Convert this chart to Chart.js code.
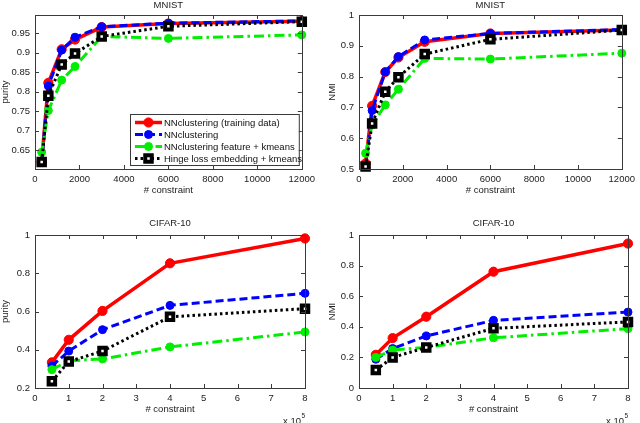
<!DOCTYPE html>
<html>
<head>
<meta charset="utf-8">
<script src="https://cdn.jsdelivr.net/npm/chart.js@4"></script>
<style>
html,body{margin:0;padding:0;background:#fff;}
body{width:640px;height:423px;position:relative;overflow:hidden;}
.c{position:absolute;}
</style>
</head>
<body>
<div class="c" style="left:0;top:0;width:320px;height:211px"><canvas id="c1"></canvas></div>
<div class="c" style="left:320px;top:0;width:320px;height:211px"><canvas id="c2"></canvas></div>
<div class="c" style="left:0;top:211px;width:320px;height:212px"><canvas id="c3"></canvas></div>
<div class="c" style="left:320px;top:211px;width:320px;height:212px"><canvas id="c4"></canvas></div>
<script>
// ---------------- DATA ----------------
const seriesNames = [
  'NNclustering (training data)',
  'NNclustering',
  'NNclustering feature + kmeans',
  'Hinge loss embedding + kmeans'
];
const mnistX = [300, 600, 1200, 1800, 3000, 6000, 12000];
const cifarX = [0.5, 1, 2, 4, 8];

const mnistPurityTrain  = [0.620, 0.823, 0.909, 0.934, 0.966, 0.975, 0.981];
const mnistPurityNN     = [0.619, 0.815, 0.907, 0.940, 0.967, 0.976, 0.982];
const mnistPurityFeat   = [0.645, 0.752, 0.830, 0.865, 0.942, 0.937, 0.946];
const mnistPurityHinge  = [0.620, 0.790, 0.870, 0.898, 0.942, 0.968, 0.980];

const mnistNmiTrain  = [0.518, 0.705, 0.815, 0.862, 0.913, 0.940, 0.951];
const mnistNmiNN     = [0.508, 0.690, 0.815, 0.865, 0.919, 0.940, 0.953];
const mnistNmiFeat   = [0.551, 0.643, 0.708, 0.759, 0.859, 0.857, 0.876];
const mnistNmiHinge  = [0.508, 0.648, 0.751, 0.798, 0.873, 0.921, 0.951];

const cifarPurityTrain = [0.334, 0.452, 0.603, 0.852, 0.982];
const cifarPurityNN    = [0.315, 0.393, 0.505, 0.632, 0.695];
const cifarPurityFeat  = [0.296, 0.342, 0.352, 0.415, 0.493];
const cifarPurityHinge = [0.235, 0.338, 0.393, 0.572, 0.615];

const cifarNmiTrain = [0.217, 0.326, 0.466, 0.760, 0.944];
const cifarNmiNN    = [0.188, 0.258, 0.340, 0.442, 0.496];
const cifarNmiFeat  = [0.200, 0.248, 0.265, 0.328, 0.388];
const cifarNmiHinge = [0.117, 0.200, 0.265, 0.390, 0.432];

const mnistXTicks = [0, 2000, 4000, 6000, 8000, 10000, 12000];
const cifarXTicks = [0, 1, 2, 3, 4, 5, 6, 7, 8];
const mnistPurityTicks = [0.65, 0.7, 0.75, 0.8, 0.85, 0.9, 0.95];
const mnistNmiTicks = [0.5, 0.6, 0.7, 0.8, 0.9, 1];
const cifarPurityTicks = [0.2, 0.4, 0.6, 0.8, 1];
const cifarNmiTicks = [0, 0.2, 0.4, 0.6, 0.8, 1];

// ---------------- STYLE ----------------
const FONT = 'Liberation Sans, Arial, Helvetica, sans-serif';
const FS = 9.5;
const styles = [
  {color:'#ff0000', width:3.5, dash:[], pointStyle:'circle', radius:4.6, bg:'#ff0000', bw:1, order:4},
  {color:'#0000ff', width:3, dash:[8,4], pointStyle:'circle', radius:4, bg:'#0000ff', bw:1, order:3},
  {color:'#00ee00', width:3, dash:[10,4,2.5,4], pointStyle:'circle', radius:4, bg:'#00ee00', bw:1, order:2},
  {color:'#000000', width:3, dash:[2.5,3], pointStyle:'rect', radius:4.6, bg:'#ffffff', bw:4, order:1}
];

function mkDatasets(xs, ys) {
  return ys.map((arr, i) => {
    const s = styles[i];
    return {
      label: seriesNames[i],
      data: arr.map((v, j) => ({x: xs[j], y: v})),
      borderColor: s.color,
      backgroundColor: s.bg,
      borderWidth: s.width,
      borderDash: s.dash,
      pointStyle: s.pointStyle,
      pointRadius: s.radius,
      pointBackgroundColor: s.bg,
      pointBorderColor: s.color,
      pointBorderWidth: s.bw,
      tension: 0,
      order: s.order,
      clip: false
    };
  });
}

const fmt = v => String(+(+v).toFixed(2));

// MATLAB-like box + inward ticks
const boxPlugin = {
  id: 'boxPlugin',
  afterDatasetsDraw(chart) {
    const {ctx, chartArea: a} = chart;
    const xs = chart.scales.x, ys = chart.scales.y;
    ctx.save();
    ctx.strokeStyle = '#3a3a3a';
    ctx.lineWidth = 1;
    ctx.setLineDash([]);
    ctx.beginPath();
    xs.ticks.forEach(t => {
      const px = Math.round(xs.getPixelForValue(t.value)) + 0.5;
      ctx.moveTo(px, a.bottom); ctx.lineTo(px, a.bottom - 4);
      ctx.moveTo(px, a.top); ctx.lineTo(px, a.top + 4);
    });
    ys.ticks.forEach(t => {
      const py = Math.round(ys.getPixelForValue(t.value)) + 0.5;
      ctx.moveTo(a.left, py); ctx.lineTo(a.left + 4, py);
      ctx.moveTo(a.right, py); ctx.lineTo(a.right - 4, py);
    });
    ctx.stroke();
    ctx.strokeRect(Math.round(a.left) + 0.5, Math.round(a.top) + 0.5,
                   Math.round(a.right - a.left), Math.round(a.bottom - a.top));
    const o = chart.options.plugins.boxPlugin || {};
    if (o.exponent) {
      ctx.fillStyle = '#222';
      ctx.font = FS + 'px ' + FONT;
      ctx.textBaseline = 'middle';
      ctx.textAlign = 'left';
      const ex = a.right - 22;
      const ey = chart.height - 2;
      ctx.fillText('x 10', ex, ey);
      const w = ctx.measureText('x 10').width;
      ctx.font = '6.5px ' + FONT;
      ctx.fillText('5', ex + w + 0.5, ey - 5);
    }
    if (o.legend) {
      const rows = chart.data.datasets;
      const right = a.right - 3, bottom = a.bottom - 4;
      const left = 130, top = bottom - 51;
      ctx.fillStyle = '#fff';
      ctx.fillRect(left, top, right - left, bottom - top);
      ctx.strokeStyle = '#3a3a3a';
      ctx.lineWidth = 1;
      ctx.strokeRect(left + 0.5, top + 0.5, right - left, bottom - top);
      rows.forEach((d, i) => {
        const y = top + 8.5 + i * 12;
        const s = styles[i];
        ctx.save();
        ctx.strokeStyle = s.color;
        ctx.lineWidth = s.width;
        ctx.setLineDash(s.dash);
        ctx.beginPath();
        ctx.moveTo(left + 5, y); ctx.lineTo(left + 32, y);
        ctx.stroke();
        ctx.setLineDash([]);
        const cx = left + 18.5;
        ctx.fillStyle = s.bg;
        ctx.strokeStyle = s.color;
        ctx.lineWidth = s.bw;
        if (s.pointStyle === 'rect') {
          const h = s.radius / Math.SQRT2;
          ctx.fillRect(cx - h, y - h, 2 * h, 2 * h);
          ctx.strokeRect(cx - h, y - h, 2 * h, 2 * h);
        } else {
          ctx.beginPath();
          ctx.arc(cx, y, s.radius, 0, Math.PI * 2);
          ctx.fill(); ctx.stroke();
        }
        ctx.restore();
        ctx.fillStyle = '#111';
        ctx.font = FS + 'px ' + FONT;
        ctx.textAlign = 'left';
        ctx.textBaseline = 'middle';
        ctx.fillText(d.label, left + 34, y + 0.5);
      });
    }
    ctx.restore();
  }
};

function makeChart(id, cfg) {
  const tickFont = {family: FONT, size: FS};
  return new Chart(document.getElementById(id), {
    type: 'line',
    data: {datasets: mkDatasets(cfg.xs, cfg.ys)},
    plugins: [boxPlugin],
    options: {
      responsive: true,
      maintainAspectRatio: false,
      animation: false,
      events: [],
      layout: {padding: cfg.pad},
      plugins: {
        legend: {display: false},
        tooltip: {enabled: false},
        title: {
          display: true, text: cfg.title, fullSize: false, color: '#222',
          font: {family: FONT, size: FS, weight: 'normal'},
          padding: cfg.titlePad
        },
        boxPlugin: {legend: !!cfg.legend, exponent: !!cfg.exponent}
      },
      scales: {
        x: {
          type: 'linear', min: cfg.xmin, max: cfg.xmax,
          afterBuildTicks: s => { s.ticks = cfg.xticks.map(v => ({value: v})); },
          afterFit: s => { s.height = cfg.xh; },
          grid: {display: false, drawTicks: false},
          border: {display: false},
          ticks: {font: tickFont, color: '#222', padding: 5, maxRotation: 0, autoSkip: false, callback: v => String(v)},
          title: {display: true, text: '# constraint', color: '#222', font: tickFont, padding: 0}
        },
        y: {
          type: 'linear', min: cfg.ymin, max: cfg.ymax,
          afterBuildTicks: s => { s.ticks = cfg.yticks.map(v => ({value: v})); },
          afterFit: s => { s.width = cfg.yw; },
          grid: {display: false, drawTicks: false},
          border: {display: false},
          ticks: {font: tickFont, color: '#222', padding: 5, autoSkip: false, callback: fmt},
          title: {display: true, text: cfg.ylabel, color: '#222', font: tickFont, padding: 0}
        }
      }
    }
  });
}

makeChart('c1', {
  title: 'MNIST', ylabel: 'purity', legend: true,
  xs: mnistX, ys: [mnistPurityTrain, mnistPurityNN, mnistPurityFeat, mnistPurityHinge],
  xmin: 0, xmax: 12000, xticks: mnistXTicks,
  ymin: 0.602, ymax: 0.997, yticks: mnistPurityTicks,
  pad: {left: 0, right: 15, top: 0, bottom: 15}, titlePad: {top: 0, bottom: 3.6},
  yw: 35, xh: 27
});
makeChart('c2', {
  title: 'MNIST', ylabel: 'NMI',
  xs: mnistX, ys: [mnistNmiTrain, mnistNmiNN, mnistNmiFeat, mnistNmiHinge],
  xmin: 0, xmax: 12000, xticks: mnistXTicks,
  ymin: 0.5, ymax: 1, yticks: mnistNmiTicks,
  pad: {left: 7, right: 12, top: 0, bottom: 15}, titlePad: {top: 0, bottom: 3.6},
  yw: 32, xh: 27
});
makeChart('c3', {
  title: 'CIFAR-10', ylabel: 'purity', exponent: true,
  xs: cifarX, ys: [cifarPurityTrain, cifarPurityNN, cifarPurityFeat, cifarPurityHinge],
  xmin: 0, xmax: 8, xticks: cifarXTicks,
  ymin: 0.2, ymax: 1, yticks: cifarPurityTicks,
  pad: {left: 0, right: 15, top: 7, bottom: 8}, titlePad: {top: 0, bottom: 5.6},
  yw: 35, xh: 27
});
makeChart('c4', {
  title: 'CIFAR-10', ylabel: 'NMI', exponent: true,
  xs: cifarX, ys: [cifarNmiTrain, cifarNmiNN, cifarNmiFeat, cifarNmiHinge],
  xmin: 0, xmax: 8, xticks: cifarXTicks,
  ymin: 0, ymax: 1, yticks: cifarNmiTicks,
  pad: {left: 7, right: 12, top: 7, bottom: 8}, titlePad: {top: 0, bottom: 5.6},
  yw: 32, xh: 27
});
</script>
</body>
</html>
